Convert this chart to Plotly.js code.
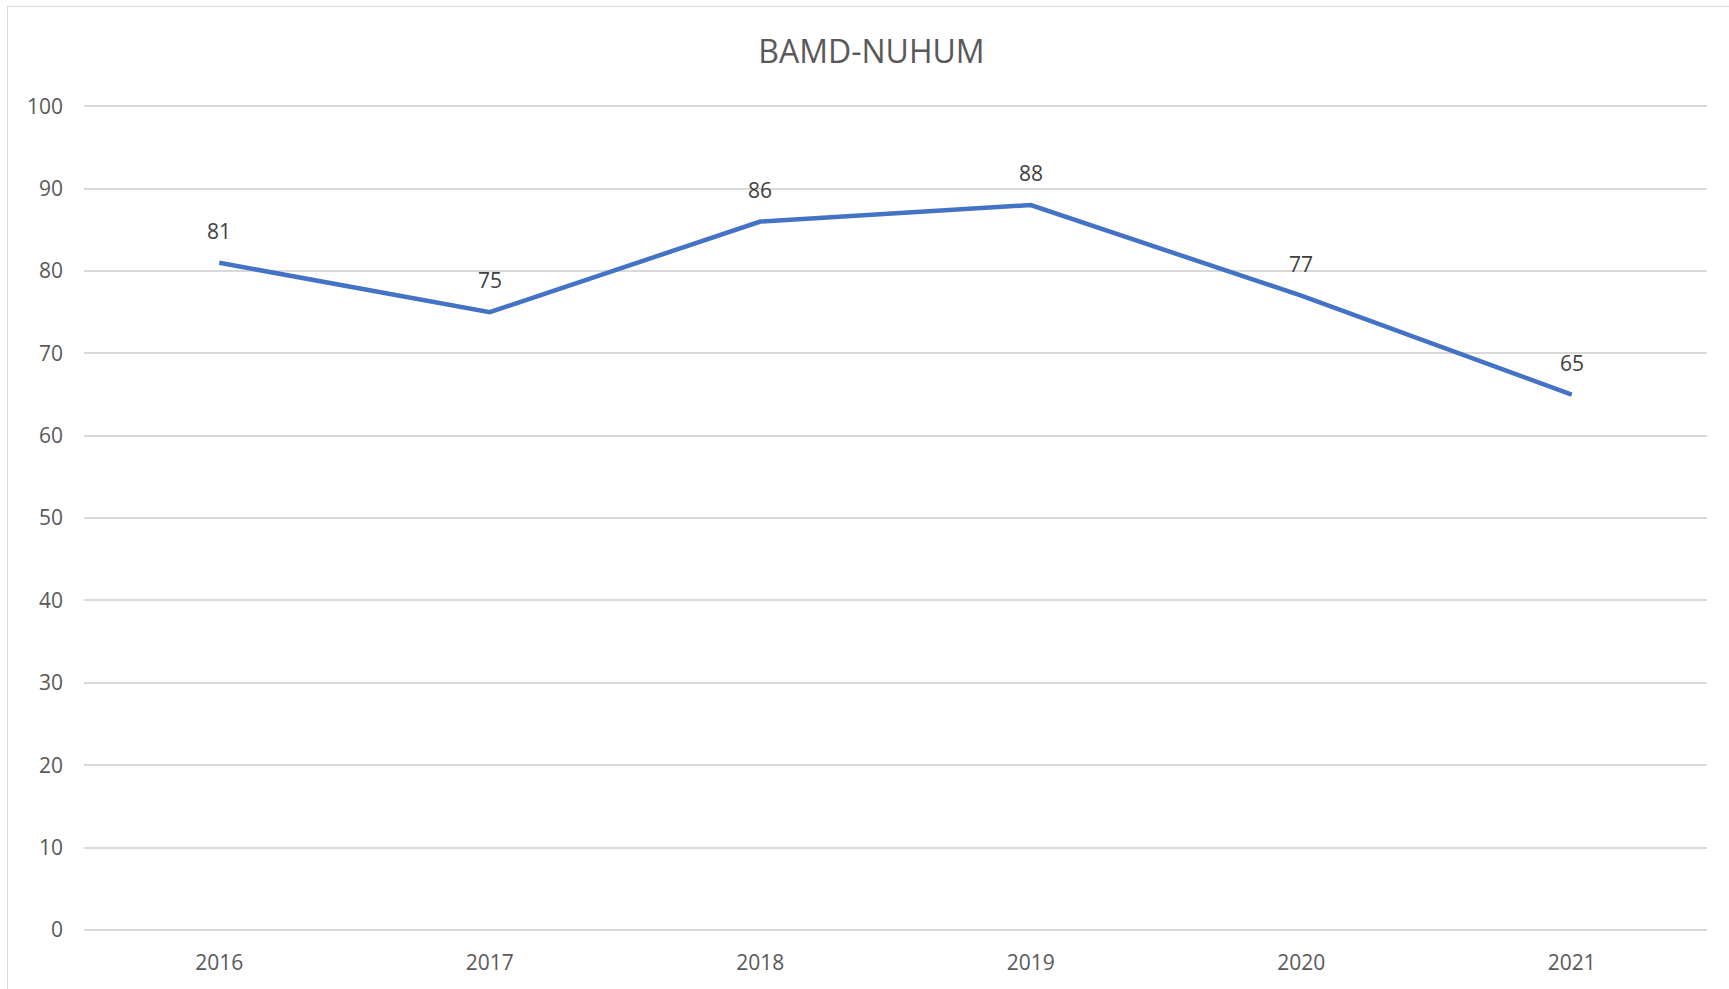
<!DOCTYPE html>
<html>
<head>
<meta charset="utf-8">
<script src="https://cdn.plot.ly/plotly-3.0.1.min.js"></script>
<style>
  html, body { margin: 0; padding: 0; background: #ffffff; overflow: hidden; }
  #frame { position: absolute; left: 7px; top: 6px; width: 1800px; height: 1100px;
           border: 1.5px solid #D9D9D9; box-sizing: border-box; }
  #chart { position: absolute; left: 0; top: 0; width: 1729px; height: 989px; }
</style>
</head>
<body>
<div id="frame"></div>
<div id="chart"></div>
<script>
const years = ["2016", "2017", "2018", "2019", "2020", "2021"];
const values = [81, 75, 86, 88, 77, 65];
const yTicks = [0, 10, 20, 30, 40, 50, 60, 70, 80, 90, 100];
const chartTitle = "BAMD-NUHUM";

const FONT = "'Open Sans', 'Noto Sans', sans-serif";

const trace = {
  type: "scatter",
  mode: "lines",
  x: years,
  y: values,
  line: { color: "#4472C4", width: 4.5 },
  hoverinfo: "x+y"
};

// category axis annotations take the category's serial index
const annotations = years.map((yr, i) => ({
  x: i, y: values[i], xref: "x", yref: "y",
  text: String(values[i]), showarrow: false, yshift: 32,
  font: { family: FONT, size: 21, color: "#404040" }
}));

const layout = {
  width: 1729, height: 989,
  paper_bgcolor: "rgba(0,0,0,0)",
  plot_bgcolor: "rgba(0,0,0,0)",
  margin: { l: 84, r: 22, t: 105, b: 59 },
  showlegend: false,
  title: {
    text: chartTitle, xref: "container", x: 0.504, xanchor: "center",
    yref: "container", y: 1 - 52 / 989, yanchor: "middle",
    font: { family: FONT, size: 32, color: "#595959" }
  },
  xaxis: {
    type: "category",
    range: [-0.5, years.length - 0.5],
    showgrid: false, zeroline: false, showline: false,
    ticks: "", ticklabelstandoff: 18,
    tickfont: { family: FONT, size: 21, color: "#595959" },
    fixedrange: true
  },
  yaxis: {
    range: [0, 100.15],
    tickmode: "array", tickvals: yTicks, ticktext: yTicks.map(String),
    showgrid: true, gridcolor: "#D9D9D9", gridwidth: 1.5,
    zeroline: true, zerolinecolor: "#D9D9D9", zerolinewidth: 1.5,
    showline: false, ticks: "", ticklabelstandoff: 20,
    tickfont: { family: FONT, size: 21, color: "#595959" },
    fixedrange: true
  },
  annotations: annotations
};

Plotly.newPlot("chart", [trace], layout, { displayModeBar: false });
</script>
</body>
</html>
